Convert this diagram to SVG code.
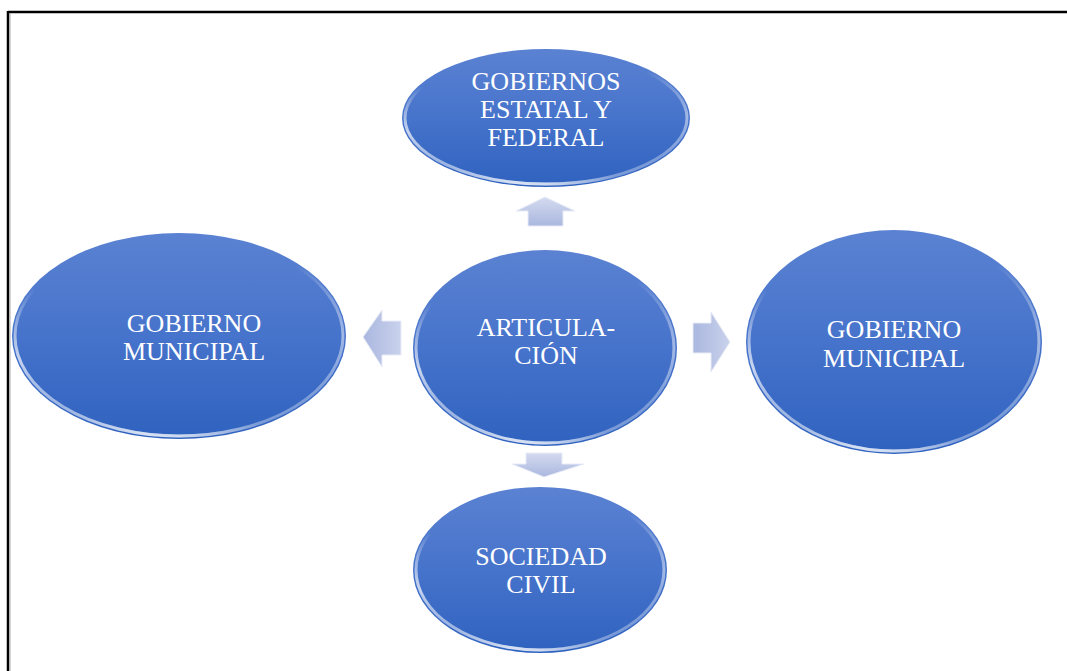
<svg xmlns="http://www.w3.org/2000/svg" width="1067" height="671" viewBox="0 0 1067 671">
<defs>
<linearGradient id="fill" x1="0" y1="0" x2="0" y2="1">
<stop offset="0" stop-color="#5b82d2"/>
<stop offset="0.5" stop-color="#4673cb"/>
<stop offset="1" stop-color="#2f62bf"/>
</linearGradient>
<linearGradient id="rim" x1="0" y1="0" x2="1" y2="1">
<stop offset="0" stop-color="#ffffff" stop-opacity="0"/>
<stop offset="0.5" stop-color="#ffffff" stop-opacity="0"/>
<stop offset="0.75" stop-color="#ffffff" stop-opacity="0.5"/>
<stop offset="1" stop-color="#ffffff" stop-opacity="0.1"/>
</linearGradient>
<linearGradient id="rimL" x1="1" y1="0" x2="0" y2="1">
<stop offset="0" stop-color="#ffffff" stop-opacity="0"/>
<stop offset="0.6" stop-color="#ffffff" stop-opacity="0"/>
<stop offset="0.8" stop-color="#ffffff" stop-opacity="0.7"/>
<stop offset="1" stop-color="#ffffff" stop-opacity="0"/>
</linearGradient>
<linearGradient id="arr" x1="0" y1="0" x2="0" y2="1">
<stop offset="0" stop-color="#d4dbef"/>
<stop offset="1" stop-color="#aab7df"/>
</linearGradient>
<linearGradient id="arrH" x1="0" y1="0" x2="1" y2="0">
<stop offset="0" stop-color="#aab7df"/>
<stop offset="1" stop-color="#c9d2ec"/>
</linearGradient>
</defs>
<style>
.node ellipse.b{fill:url(#fill);}
.node ellipse.r{fill:none;stroke:url(#rim);stroke-width:3;}
.node ellipse.l{fill:none;stroke:url(#rimL);stroke-width:3;}
.node text{font-family:'Liberation Serif','Times New Roman',serif;font-size:26px;fill:#ffffff;text-anchor:middle;}
.conn polygon{stroke:#e8ecf7;stroke-width:1;}
</style>
<rect width="1067" height="671" fill="#ffffff"/>
<g id="frame">
<line x1="8" y1="12" x2="1067" y2="12" stroke="#000" stroke-width="2.5"/>
<line x1="8" y1="11" x2="8" y2="671" stroke="#000" stroke-width="2.5"/>
<line x1="10" y1="13" x2="10" y2="671" stroke="#aaa" stroke-width="1"/>
</g>
<g id="connectors" class="conn">
<polygon points="545,197 575,211 563,211 563,226 528,226 528,211 516,211" fill="url(#arr)"/>
<polygon points="363,337 382,310 382,321 401,321 401,355 382,355 382,367" fill="url(#arrH)"/>
<polygon points="730,342 711,312 711,323 693,323 693,353 711,353 711,372" fill="url(#arrH)"/>
<polygon points="544,477 584,464 562,464 562,453 526,453 526,464 512,464" fill="url(#arr)"/>
</g>
<g id="node-top" class="node">
<ellipse class="b" cx="546" cy="118" rx="144" ry="69"/>
<ellipse class="r" cx="546" cy="118" rx="141" ry="66"/>
<ellipse class="l" cx="546" cy="118" rx="141" ry="66"/>
<text x="546" y="90" font-family="Liberation Serif, serif">GOBIERNOS</text>
<text x="546" y="118" font-family="Liberation Serif, serif">ESTATAL Y</text>
<text x="546" y="146" font-family="Liberation Serif, serif">FEDERAL</text>
</g>
<g id="node-center" class="node">
<ellipse class="b" cx="545" cy="348" rx="132" ry="98"/>
<ellipse class="r" cx="545" cy="348" rx="129" ry="95"/>
<ellipse class="l" cx="545" cy="348" rx="129" ry="95"/>
<text x="546" y="336" font-family="Liberation Serif, serif">ARTICULA-</text>
<text x="546" y="364" font-family="Liberation Serif, serif">CIÓN</text>
</g>
<g id="node-left" class="node">
<ellipse class="b" cx="179" cy="336" rx="167" ry="103"/>
<ellipse class="r" cx="179" cy="336" rx="164" ry="100"/>
<ellipse class="l" cx="179" cy="336" rx="164" ry="100"/>
<text x="194" y="332" font-family="Liberation Serif, serif">GOBIERNO</text>
<text x="194" y="360" font-family="Liberation Serif, serif">MUNICIPAL</text>
</g>
<g id="node-right" class="node">
<ellipse class="b" cx="894" cy="342" rx="148" ry="112"/>
<ellipse class="r" cx="894" cy="342" rx="145" ry="109"/>
<ellipse class="l" cx="894" cy="342" rx="145" ry="109"/>
<text x="894" y="338" font-family="Liberation Serif, serif">GOBIERNO</text>
<text x="894" y="367" font-family="Liberation Serif, serif">MUNICIPAL</text>
</g>
<g id="node-bottom" class="node">
<ellipse class="b" cx="540" cy="570" rx="127" ry="83"/>
<ellipse class="r" cx="540" cy="570" rx="124" ry="80"/>
<ellipse class="l" cx="540" cy="570" rx="124" ry="80"/>
<text x="541" y="565" font-family="Liberation Serif, serif">SOCIEDAD</text>
<text x="541" y="593" font-family="Liberation Serif, serif">CIVIL</text>
</g>
</svg>
